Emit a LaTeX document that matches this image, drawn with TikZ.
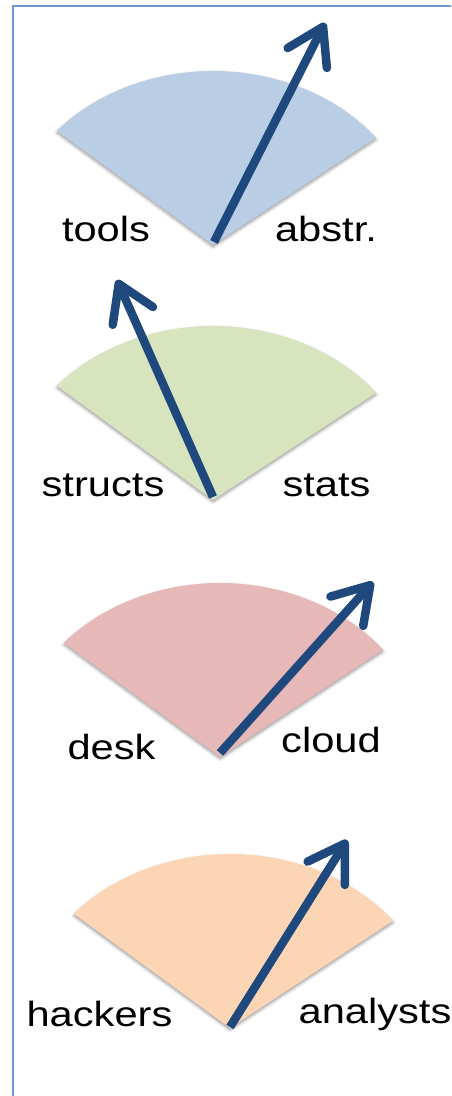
\documentclass[tikz,border=0pt]{standalone}
\usepackage{fontspec}
\setmainfont{Liberation Sans}
\usetikzlibrary{arrows.meta,shadows.blur}
\definecolor{framecol}{HTML}{6F96CE}
\definecolor{arrowcol}{HTML}{1F497D}
\definecolor{sblue}{HTML}{B9CDE5}
\definecolor{sgreen}{HTML}{D7E4BD}
\definecolor{spink}{HTML}{E6B9B8}
\definecolor{speach}{HTML}{FCD5B5}
\tikzset{
  sector/.style={blur shadow={shadow xshift=0pt, shadow yshift=-2pt, shadow blur radius=3pt, shadow opacity=40}},
  needle/.style={draw=arrowcol, line width=8.5pt, -{Straight Barb[length=35pt, width=44pt, round]}},
  lbl/.style={anchor=base, inner sep=0pt, font=\fontsize{35}{42}\selectfont, xscale=1.19}
}
\begin{document}
\begin{tikzpicture}[x=1pt,y=1pt]
\useasboundingbox (0,0) rectangle (451,1096);
\clip (0,0) rectangle (451,1096);
\draw[framecol, line width=2pt] (13,1090) rectangle (480,-30);
% apexes
\coordinate (p1) at (213,851);
\coordinate (p2) at (213,596);
\coordinate (p3) at (220,339);
\coordinate (p4) at (230,68);
% sectors
\fill[sblue, sector] (p1) -- ++(139:207 and 174) arc[start angle=139, end angle=38, x radius=207, y radius=174] -- cycle;
\fill[sgreen, sector] (p2) -- ++(139:207 and 174) arc[start angle=139, end angle=38, x radius=207, y radius=174] -- cycle;
\fill[spink, sector] (p3) -- ++(139:207 and 174) arc[start angle=139, end angle=38, x radius=207, y radius=174] -- cycle;
\fill[speach, sector] (p4) -- ++(139:207 and 174) arc[start angle=139, end angle=38, x radius=207, y radius=174] -- cycle;
% arrow starts and tips
\coordinate (s1) at (214,854);
\coordinate (t1) at (325,1073);
\coordinate (s2) at (213,599);
\coordinate (t2) at (117,816);
\coordinate (s3) at (220,343);
\coordinate (t3) at (373,514);
\coordinate (s4) at (230,69);
\coordinate (t4) at (347,256);
\draw[needle] (s1) -- (t1);
\draw[needle] (s2) -- (t2);
\draw[needle] (s3) -- (t3);
\draw[needle] (s4) -- (t4);
% labels
\node[lbl] (tools) at (106,854) {tools};
\node[lbl] (abstr) at (326,854) {abstr.};
\node[lbl] (structs) at (103,599) {structs};
\node[lbl] (stats) at (326.5,599) {stats};
\node[lbl] (desk) at (111.5,336) {desk};
\node[lbl] (cloud) at (331,343) {cloud};
\node[lbl] (hackers) at (99.5,69) {hackers};
\node[lbl] (analysts) at (375,72) {analysts};
\end{tikzpicture}
\end{document}
